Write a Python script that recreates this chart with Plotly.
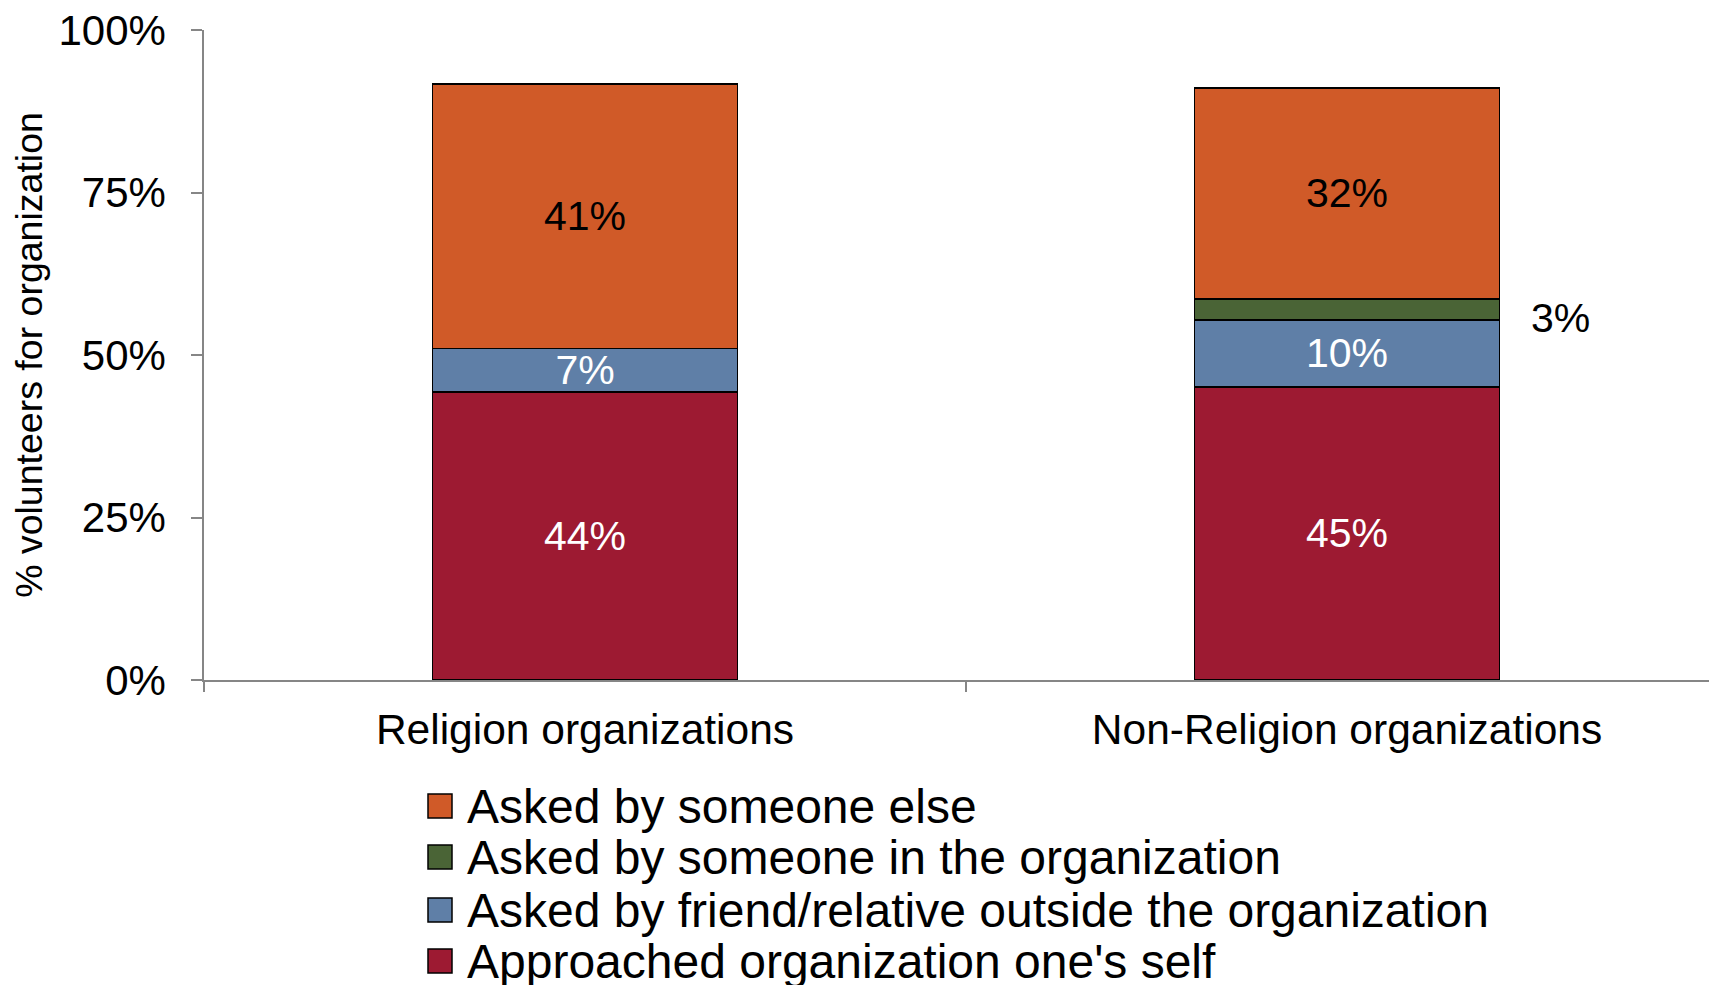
import plotly.graph_objects as go

# data (percent of volunteers)
categories = ["Religion organizations", "Non-Religion organizations"]
series_names = [
    "Approached organization one's self",
    "Asked by friend/relative outside the organization",
    "Asked by someone in the organization",
    "Asked by someone else",
]
approached_self = [44.3, 45.1]
asked_friend = [6.7, 10.3]
asked_in_org = [None, 3.2]
asked_else = [40.7, 32.5]
y_ticks = [0, 25, 50, 75, 100]
y_tick_labels = ["0%", "25%", "50%", "75%", "100%"]

series_values = [approached_self, asked_friend, asked_in_org, asked_else]
colors = ["#9D1A32", "#5F7FA7", "#4A6436", "#D05A28"]
label_colors = ["white", "white", "black", "black"]
show_inside = [True, True, False, True]

# the page body adds an 8px offset, so figure pixels = page pixels - 8
W, H = 1717, 985
L, R, T, B = 196, 8, 22, 313
FONT = "Liberation Sans, Arial, sans-serif"
AXIS_GRAY = "#868686"

x_pos = list(range(len(categories)))

fig = go.Figure()
for name, vals, col, lc, inside in zip(series_names, series_values, colors, label_colors, show_inside):
    texts = [f"{v:.0f}%" if (v is not None and inside) else "" for v in vals]
    fig.add_trace(go.Bar(
        x=x_pos, y=vals, name=name,
        marker=dict(color=col, line=dict(color="black", width=1.5)),
        width=0.4,
        text=texts, textposition="inside", insidetextanchor="middle",
        textfont=dict(family=FONT, size=41, color=lc),
        showlegend=False,
    ))

# label for the thin green segment, placed to the right of the bar
base = approached_self[1] + asked_friend[1]
fig.add_annotation(
    x=1 + 0.28, y=base + asked_in_org[1] / 2, text=f"{asked_in_org[1]:.0f}%",
    showarrow=False, yshift=-8,
    font=dict(family=FONT, size=41, color="black"),
)

# hand-built legend (top series first, like the reference)
plot_w = W - L - R
plot_h = H - T - B
legend_rows = [798, 849, 902, 953]
for row_y, name, col in zip(legend_rows, series_names[::-1], colors[::-1]):
    yp = (H - B - row_y) / plot_h
    fig.add_shape(
        type="rect", xref="paper", yref="paper",
        xsizemode="pixel", ysizemode="pixel",
        xanchor=(432 - L) / plot_w, yanchor=yp,
        x0=-12, x1=12, y0=-12, y1=12,
        fillcolor=col, line=dict(color="black", width=1.5),
    )
    fig.add_annotation(
        xref="paper", yref="paper", x=(457 - L) / plot_w, y=yp,
        xanchor="left", yanchor="middle", showarrow=False, text=name,
        font=dict(family=FONT, size=48, color="black"),
    )

fig.update_layout(
    width=W, height=H,
    margin=dict(l=L, r=R, t=T, b=B, autoexpand=False),
    plot_bgcolor="white", paper_bgcolor="white",
    barmode="stack", bargap=0.6,
    uniformtext=dict(minsize=41, mode="show"),
    font=dict(family=FONT, color="black"),
)
fig.update_xaxes(
    range=[-0.5, -0.5 + plot_w / 762], automargin=False,
    tickmode="array", tickvals=x_pos, ticktext=categories,
    ticks="", ticklabelstandoff=11,
    tickfont=dict(family=FONT, size=42.5, color="black"),
    showline=True, linecolor=AXIS_GRAY, linewidth=1.5,
    showgrid=False, zeroline=False,
    minor=dict(tickmode="array", tickvals=[-0.5, 0.5, 1.5], ticks="outside",
               ticklen=10, tickcolor=AXIS_GRAY, tickwidth=1.5, showgrid=False),
)
fig.update_yaxes(
    range=[0, 100], automargin=False,
    tickmode="array", tickvals=y_ticks, ticktext=y_tick_labels,
    ticks="outside", ticklen=11, tickcolor=AXIS_GRAY, tickwidth=1.5,
    ticklabelstandoff=17, ticklabeloverflow="allow",
    tickfont=dict(family=FONT, size=42, color="black"),
    showline=True, linecolor=AXIS_GRAY, linewidth=1.5,
    showgrid=False, zeroline=False,
    title=dict(text="% volunteers for organization", standoff=6,
               font=dict(family=FONT, size=37.5, color="black")),
)

fig.write_html("out.html")
